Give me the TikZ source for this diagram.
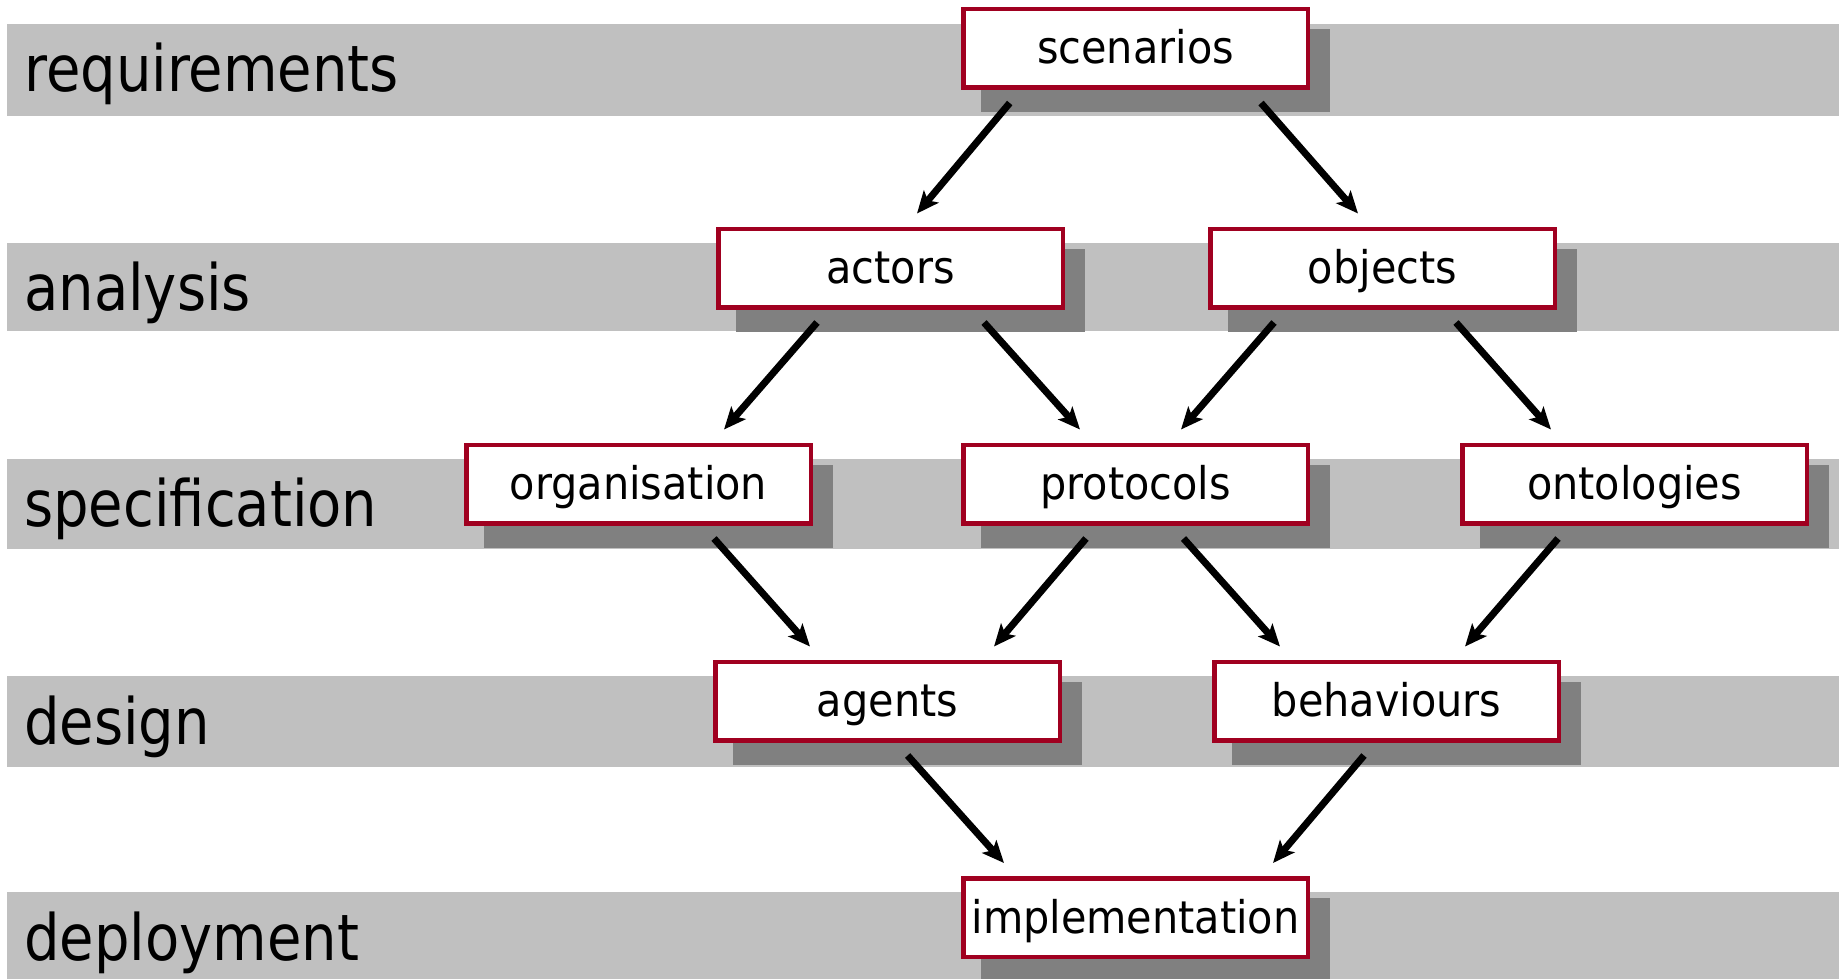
\documentclass[tikz,border=0pt]{standalone}
\usepackage{fontspec}
\usetikzlibrary{calc,arrows.meta}
\newfontfamily\bandfont[FakeStretch=0.875]{DejaVu Sans}
\newfontfamily\boxfont[FakeStretch=0.92]{DejaVu Sans}
\definecolor{bandgray}{RGB}{192,192,192}
\definecolor{shadowgray}{RGB}{128,128,128}
\definecolor{boxred}{RGB}{160,0,32}
\pgfdeclarelayer{bg}
\pgfsetlayers{bg,main}
\begin{document}
\begin{tikzpicture}[x=1pt,y=-1pt,
  band/.style={fill=bandgray},
  bandlabel/.style={anchor=base west,inner sep=0pt,font=\bandfont\fontsize{64}{64}\selectfont},
  stage/.style={draw=boxred,line width=4.5pt,fill=white,inner sep=0pt,
    minimum width=344.5pt,minimum height=78.5pt,text height=34pt,text depth=3pt,
    font=\boxfont\fontsize{45}{45}\selectfont},
  flow/.style={line width=7pt,-{Stealth[length=22pt,width=19pt,inset=5pt]}},
  shadowbox/.style={fill=shadowgray}]
\useasboundingbox (0,0) rectangle (1841,979);

% stage boxes
\node[stage] (scen)    at (1135.5,48.5) {scenarios};
\node[stage] (actors)  at (890.5,268)   {actors};
\node[stage] (objects) at (1382.5,268)  {objects};
\node[stage] (org)     at (638.5,484)   {organisation};
\node[stage] (prot)    at (1135.5,484)  {protocols};
\node[stage] (onto)    at (1634.5,484)  {ontologies};
\node[stage] (agents)  at (887.5,701)   {agents};
\node[stage] (behav)   at (1386.5,701)  {behaviours};
\node[stage] (impl)    at (1135.5,917.5){implementation};

% phase bands and box shadows behind everything
\begin{pgfonlayer}{bg}
  \fill[band] (7,24)    rectangle (1839,116);
  \fill[band] (7,242.5) rectangle (1839,331);
  \fill[band] (7,458.5) rectangle (1839,549);
  \fill[band] (7,676)   rectangle (1839,767);
  \fill[band] (7,892)   rectangle (1839,979);
  \foreach \b in {scen,actors,objects,org,prot,onto,agents,behav,impl}
    \fill[shadowbox] ($(\b.north west)+(20,22)$) rectangle ($(\b.south east)+(20,22)$);
\end{pgfonlayer}

% phase labels
\node[bandlabel] (lreq)  at (24,92)    {requirements};
\node[bandlabel] (lana)  at (24,310.5) {analysis};
\node[bandlabel] (lspec) at (24,526.5) {specification};
\node[bandlabel] (ldes)  at (24,744)   {design};
\node[bandlabel] (ldep)  at (24,960)   {deployment};

% refinement arrows
\draw[flow] ($(scen.south west)+(48.7,13)$)   -- ($(actors.north west)+(201,-13)$);
\draw[flow] ($(scen.south west)+(300,13)$)    -- ($(objects.north west)+(150,-13)$);
\draw[flow] ($(actors.south west)+(101,13)$)  -- ($(org.north west)+(260,-13)$);
\draw[flow] ($(actors.south west)+(268,13)$)  -- ($(prot.north west)+(119,-13)$);
\draw[flow] ($(objects.south west)+(66,13)$)  -- ($(prot.north west)+(220,-13)$);
\draw[flow] ($(objects.south west)+(248,13)$) -- ($(onto.north west)+(91,-13)$);
\draw[flow] ($(org.south west)+(250,13)$)     -- ($(agents.north west)+(97,-13)$);
\draw[flow] ($(prot.south west)+(125,13)$)    -- ($(agents.north west)+(281,-13)$);
\draw[flow] ($(prot.south west)+(222.5,13)$)  -- ($(behav.north west)+(68,-13)$);
\draw[flow] ($(onto.south west)+(98,13)$)     -- ($(behav.north west)+(253,-13)$);
\draw[flow] ($(agents.south west)+(194.6,13)$) -- ($(impl.north west)+(43,-13)$);
\draw[flow] ($(behav.south west)+(152,13)$)   -- ($(impl.north west)+(312,-13)$);
\end{tikzpicture}
\end{document}
